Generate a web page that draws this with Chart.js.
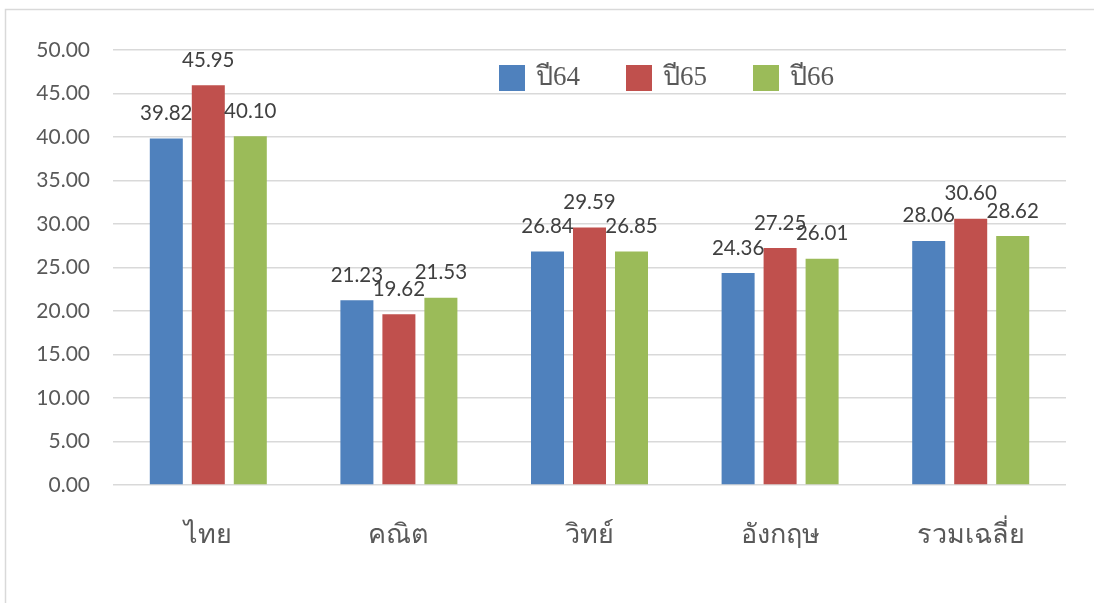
<!DOCTYPE html>
<html>
<head>
<meta charset="utf-8">
<script src="https://cdn.jsdelivr.net/npm/chart.js@4/dist/chart.umd.min.js"></script>
<style>
html,body{margin:0;padding:0;background:#fff;}
#wrap{width:1094px;height:603px;position:relative;}
</style>
</head>
<body>
<div id="wrap"><canvas id="c" width="1094" height="603"></canvas></div>
<script>
const categories = ['ไทย', 'คณิต', 'วิทย์', 'อังกฤษ', 'รวมเฉลี่ย'];
const seriesNames = ['ปี64', 'ปี65', 'ปี66'];
const y64 = [39.82, 21.23, 26.84, 24.36, 28.06];
const y65 = [45.95, 19.62, 29.59, 27.25, 30.60];
const y66 = [40.10, 21.53, 26.85, 26.01, 28.62];
const colors = ['#4f81bd', '#c0504d', '#9bbb59'];
const yTicks = [0, 5, 10, 15, 20, 25, 30, 35, 40, 45, 50];

const frame = {
  id: 'frame',
  beforeDraw(chart) {
    const ctx = chart.ctx;
    ctx.save();
    ctx.fillStyle = '#fff';
    ctx.fillRect(0, 0, chart.width, chart.height);
    ctx.strokeStyle = '#d9d9d9';
    ctx.lineWidth = 1.5;
    ctx.beginPath();
    ctx.moveTo(5.5, chart.height);
    ctx.lineTo(5.5, 9.5);
    ctx.lineTo(chart.width, 9.5);
    ctx.stroke();
    ctx.restore();
  }
};

const valueLabels = {
  id: 'valueLabels',
  afterDatasetsDraw(chart) {
    const ctx = chart.ctx;
    ctx.save();
    ctx.font = '20.5px Lato, "Liberation Sans", sans-serif';
    ctx.fillStyle = '#404040';
    ctx.textAlign = 'center';
    ctx.textBaseline = 'middle';
    chart.data.datasets.forEach((ds, di) => {
      const meta = chart.getDatasetMeta(di);
      meta.data.forEach((bar, i) => {
        ctx.fillText(ds.data[i].toFixed(2), bar.x, bar.y - 25);
      });
    });
    ctx.restore();
  }
};

const customLegend = {
  id: 'customLegend',
  afterDraw(chart) {
    const ctx = chart.ctx;
    ctx.save();
    ctx.font = '27px "Liberation Serif", "DejaVu Serif", serif';
    ctx.textBaseline = 'middle';
    ctx.textAlign = 'left';
    let x = chart.chartArea.left + 386;
    const yc = 78;
    chart.data.datasets.forEach((ds) => {
      ctx.fillStyle = ds.backgroundColor;
      ctx.fillRect(x, yc - 13, 26, 26);
      ctx.fillStyle = '#595959';
      ctx.fillText(ds.label, x + 37, yc);
      x += 127;
    });
    ctx.restore();
  }
};

new Chart(document.getElementById('c'), {
  type: 'bar',
  data: {
    labels: categories,
    datasets: [
      { label: seriesNames[0], data: y64, backgroundColor: colors[0] },
      { label: seriesNames[1], data: y65, backgroundColor: colors[1] },
      { label: seriesNames[2], data: y66, backgroundColor: colors[2] }
    ]
  },
  options: {
    responsive: false,
    animation: false,
    devicePixelRatio: 1,
    layout: { padding: { top: 50, right: 28, left: 0, bottom: 0 } },
    datasets: { bar: { categoryPercentage: 0.661, barPercentage: 0.786 } },
    plugins: { legend: { display: false }, tooltip: { enabled: false } },
    scales: {
      x: {
        grid: { display: false, drawTicks: false },
        border: { display: false },
        ticks: {
          color: '#595959',
          font: { family: '"Liberation Serif", "DejaVu Serif", serif', size: 27 },
          padding: 35
        },
        afterFit(s) { s.height = 118; }
      },
      y: {
        min: 0, max: 50,
        afterBuildTicks(s) { s.ticks = yTicks.map(v => ({ value: v })); },
        grid: { color: '#d9d9d9', lineWidth: 1.5, drawTicks: false },
        border: { display: false },
        ticks: {
          color: '#595959',
          font: { family: 'Lato, "Liberation Sans", sans-serif', size: 21 },
          padding: 23,
          callback: v => Number(v).toFixed(2)
        },
        afterFit(s) { s.width = 113; }
      }
    }
  },
  plugins: [frame, valueLabels, customLegend]
});
</script>
</body>
</html>
